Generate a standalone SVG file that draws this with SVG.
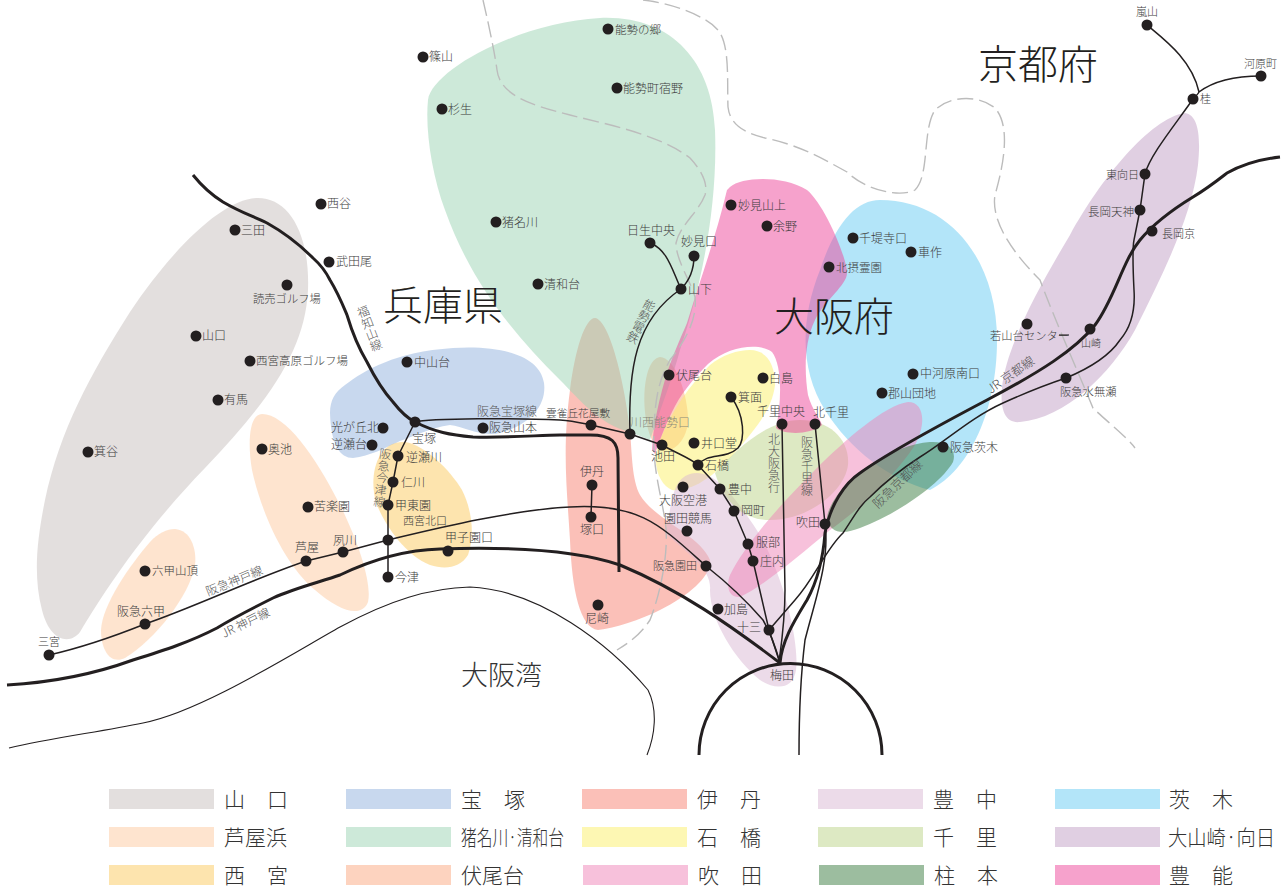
<svg xmlns="http://www.w3.org/2000/svg" width="1288" height="888" viewBox="0 0 1288 888">
<style>
text{font-family:"Noto Sans CJK JP","Noto Sans",sans-serif;font-size:12px;fill:#3c3c3c;font-weight:300}
.big{font-size:40px;fill:#231f20}
.bay{font-size:27px;fill:#333}
.leg{font-size:21px;fill:#333}
.line{font-size:12px;fill:#555}
.v{writing-mode:vertical-rl;font-size:12px;fill:#555}
circle{fill:#231f20}
.r{opacity:.5;stroke:none}
.t{fill:none;stroke:#231f20;stroke-width:1.5}
.k{fill:none;stroke:#231f20;stroke-width:3}
.c{fill:none;stroke:#231f20;stroke-width:1.1}
.d{fill:none;stroke:#bcbcbc;stroke-width:1.4;stroke-dasharray:16 6}
</style>
<g id="regions">
<path class="r" fill="#c7bfbd" d="M258,198C288,198 310,232 308,290C305,350 270,400 205,468C145,530 105,590 80,632C70,645 50,642 42,610C33,575 37,540 45,500C60,430 90,375 130,312C175,245 225,198 258,198Z"/>
<path class="r" fill="#fdc99f" d="M175,529C190,530 197,548 195,565C190,595 155,640 125,658C110,665 101,650 101,630C102,605 130,565 150,542C158,533 167,529 175,529Z"/>
<path class="r" fill="#fdc99f" d="M262,414C285,414 315,455 340,505C360,545 372,585 368,602C362,618 340,612 315,590C285,565 262,515 252,470C247,440 250,414 262,414Z"/>
<path class="r" fill="#91b1dd" d="M453,348C500,345 540,355 544,383C547,405 530,425 500,433C480,437 465,427 450,425C430,428 415,436 400,441C385,448 370,456 353,458C340,458 331,445 330,413C330,400 335,392 345,385C365,370 395,352 453,348Z"/>
<path class="r" fill="#fbc95d" d="M405,442C425,445 450,470 462,490C472,510 475,535 468,555C460,568 445,570 430,565C405,555 385,525 377,505C368,480 375,440 405,442Z"/>
<path class="r" fill="#f78171" d="M595,318C610,320 625,385 630,430C632,455 632,480 640,495C655,520 700,535 710,560C712,575 690,595 660,610C640,620 615,628 598,630C580,628 572,590 570,540C567,490 562,450 570,390C575,350 585,318 595,318Z"/>
<path class="r" fill="#fba77f" d="M660,357C675,357 688,395 688,420C688,440 670,460 655,445C640,425 640,360 660,357Z"/>
<path class="r" fill="#9bd3b3" d="M428,100C432,70 520,22 600,18C670,15 712,60 715,130C718,210 700,290 680,350C672,380 660,410 650,440L630,432C600,425 580,400 560,380C510,330 470,280 445,210C432,175 425,130 428,100Z"/>
<path class="r" fill="#fbef67" d="M750,350C765,350 775,362 775,385C772,410 755,430 730,458C712,478 690,492 672,490C660,485 650,465 660,440C672,410 690,385 710,365C722,355 738,350 750,350Z"/>
<path class="r" fill="#d9b7d3" d="M690,474C710,468 730,490 750,520C780,560 800,640 796,670C793,690 775,690 760,680C735,660 710,620 710,590C712,570 690,555 665,533C672,510 670,480 690,474Z"/>
<path class="r" fill="#bbd387" d="M715,473C740,445 770,420 800,420C830,420 850,440 848,465C845,490 810,520 770,520C745,520 725,505 715,473Z"/>
<path class="r" fill="#67cbf3" d="M880,200C950,200 997,260 997,340C997,410 970,470 930,490C890,480 850,450 825,410C800,370 800,320 820,270C835,225 855,200 880,200Z"/>
<path class="r" fill="#c19fc5" d="M1185,113C1198,115 1201,135 1198,165C1192,215 1165,270 1135,330C1110,375 1065,418 1020,422C1003,424 999,405 1003,380C1010,340 1040,285 1070,235C1100,180 1150,118 1185,113Z"/>
<path class="r" fill="#ef83b7" d="M908,402C925,402 926,425 915,445C895,475 865,505 830,530C800,555 765,585 740,597C728,598 726,585 730,575C745,545 775,510 815,470C845,440 885,405 908,402Z"/>
<path class="r" fill="#397b3f" d="M930,442C948,441 957,450 953,462C940,485 895,515 860,528C845,534 830,535 827,518C828,505 845,480 870,465C890,452 912,443 930,442Z"/>
<path class="r" fill="#ed4599" d="M730,187C742,177 782,175 807,190C825,205 847,258 847,273C847,285 825,300 815,320C803,345 805,375 808,395C812,410 820,418 822,425C810,435 785,435 776,428C782,400 782,365 772,352C760,343 730,345 708,364C692,380 680,395 672,412C664,428 660,440 655,454L652,450C653,425 660,395 668,370C675,350 682,335 687,323C700,280 715,240 727,190Z"/>
</g>
<g id="borders">
<path class="d" d="M483,0C490,30 495,55 497,70C500,95 530,105 570,115C610,125 660,135 690,158C703,172 708,185 705,195C698,213 680,225 676,243C676,260 690,280 695,297C697,315 690,335 670,360C660,378 655,395 654,430C652,465 660,490 665,520C670,550 660,595 650,620C640,635 630,642 617,650"/>
<path class="d" d="M643,0C670,3 705,15 718,30C730,45 727,80 728,107C730,125 745,133 765,138C800,145 825,160 847,172C865,190 900,198 915,190C930,175 922,130 935,110C950,95 980,95 995,108C1010,125 1005,160 995,195C990,225 1020,260 1040,280C1055,320 1075,365 1093,408C1105,420 1125,435 1135,448"/>
</g>
<g id="connectors">
<path class="c" d="M9,748C50,738 100,732 143,723C200,712 290,655 340,627C390,600 430,588 470,587C540,590 610,645 648,690C658,710 655,735 647,755"/>
<path class="k" d="M7,685C60,682 100,672 133,660C165,650 190,642 217,628C235,617 255,607 273,598C295,588 320,582 340,575C365,563 400,550 440,549C500,547 570,548 620,565C680,590 730,625 780,663"/>
<path class="k" d="M780,663C782,640 795,620 807,600C818,580 823,560 825,533C830,505 845,483 860,473C885,455 930,430 987,400C1040,372 1075,350 1095,325C1115,298 1122,262 1140,240C1155,222 1175,208 1193,197C1208,188 1218,180 1227,173C1245,163 1262,159 1280,157"/>
<path class="k" d="M193,175C205,190 215,197 223,202C240,212 250,215 267,223C285,233 300,245 313,258C322,266 326,272 330,280C338,293 342,303 347,315C353,335 358,347 367,362C375,378 384,392 393,402C400,411 407,418 415,422C435,432 450,435 473,437C510,438 540,435 560,435L590,435C612,435 618,442 618,458L619,572"/>
<path class="k" d="M699,755A91,91 0 0 1 882,755"/>
<path class="t" d="M415,422C430,418 520,418 560,420C575,421 585,424 591,425L630,434L662,445C680,455 690,458 698,465L720,489L734,511L748,544L753,561L769,630L780,663"/>
<path class="t" d="M49,655C80,648 115,636 145,624C195,607 250,580 306,561L343,552L388,540C430,530 510,510 570,507C640,503 660,525 706,566C730,585 750,605 763,620C770,632 775,645 780,663"/>
<path class="t" d="M415,422L398,456L393,482L388,505L388,577"/>
<path class="t" d="M630,434C628,370 635,320 681,289"/>
<path class="t" d="M650,243C668,250 672,270 681,289C690,280 694,270 694,256"/>
<path class="t" d="M731,397C745,415 745,440 738,448C725,460 708,452 698,465"/>
<path class="t" d="M592,485L591,517"/>
<path class="t" d="M782,424L785,590C785,620 782,640 779,662"/>
<path class="t" d="M815,424L825,524C830,560 815,600 805,640C800,680 799,720 799,755"/>
<path class="t" d="M769,630L795,600C815,578 825,550 843,533C855,515 860,505 870,497C885,482 900,470 920,457C945,442 970,418 1003,403C1025,393 1045,385 1066,378C1090,368 1110,355 1120,340C1133,325 1135,305 1134,290C1133,270 1132,250 1134,240L1140,210L1145,174C1150,155 1175,125 1193,99C1196,96 1198,94 1199,92C1215,80 1240,76 1261,76M1199,92C1192,60 1165,40 1147,25"/>
<path class="c" d="M1059,335H1069"/>
</g>
<g id="big-labels">
<text class="big" x="383" y="320">兵庫県</text>
<text class="big" x="774" y="331">大阪府</text>
<text class="big" x="978" y="79">京都府</text>
<text class="bay" x="461" y="685">大阪湾</text>
</g>
<g id="line-labels">
<text class="line" x="208" y="596" transform="rotate(-22 208 596)">阪急神戸線</text>
<text class="line" x="224" y="638" transform="rotate(-26 224 638)">JR 神戸線</text>
<text class="v" x="361" y="306" transform="rotate(-21 361 306)">福知山線</text>
<text class="v" x="652" y="300" transform="rotate(27 652 300)">能勢電鉄</text>
<text class="v" x="386" y="448" transform="rotate(7 386 448)">阪急今津線</text>
<text class="line" x="477" y="416">阪急宝塚線</text>
<text class="v" x="774" y="433">北大阪急行</text>
<text class="v" x="807" y="436">阪急千里線</text>
<text class="line" x="878" y="509" transform="rotate(-44 878 509)" style="font-size:12.6px">阪急京都線</text>
<text class="line" x="991" y="394" transform="rotate(-35 991 394)" style="font-size:12.5px">JR 京都線</text>
<text x="403" y="525" style="font-size:11px">西宮北口</text>
</g>
<g id="n-sasayama"><circle cx="423" cy="57" r="5.5"/><text x="429" y="61">篠山</text></g>
<g id="n-sugio"><circle cx="442" cy="109" r="5.5"/><text x="448" y="114">杉生</text></g>
<g id="n-nosenosato"><circle cx="608" cy="29" r="5.5"/><text x="615" y="34" style="font-size:11.5px">能勢の郷</text></g>
<g id="n-noseshukuno"><circle cx="617" cy="88" r="5.5"/><text x="623" y="93">能勢町宿野</text></g>
<g id="n-inagawa"><circle cx="496" cy="222" r="5.5"/><text x="502" y="227">猪名川</text></g>
<g id="n-seiwadai"><circle cx="538" cy="284" r="5.5"/><text x="544" y="289">清和台</text></g>
<g id="n-nissei"><circle cx="650" cy="243" r="5.5"/><text x="627" y="235">日生中央</text></g>
<g id="n-myokenguchi"><circle cx="694" cy="256" r="5.5"/><text x="681" y="246">妙見口</text></g>
<g id="n-yamashita"><circle cx="681" cy="289" r="5.5"/><text x="688" y="294">山下</text></g>
<g id="n-myokensan"><circle cx="731" cy="205" r="5.5"/><text x="738" y="210">妙見山上</text></g>
<g id="n-yono"><circle cx="767" cy="226" r="5.5"/><text x="773" y="231">余野</text></g>
<g id="n-sentei"><circle cx="853" cy="238" r="5.5"/><text x="859" y="243">千堤寺口</text></g>
<g id="n-kurumatsukuri"><circle cx="911" cy="252" r="5.5"/><text x="918" y="257">車作</text></g>
<g id="n-hokusetsu"><circle cx="829" cy="267" r="5.5"/><text x="836" y="272" style="font-size:11.5px">北摂霊園</text></g>
<g id="n-nakagawara"><circle cx="913" cy="374" r="5.5"/><text x="920" y="378">中河原南口</text></g>
<g id="n-koriyama"><circle cx="882" cy="393" r="5.5"/><text x="888" y="398">郡山団地</text></g>
<g id="n-ibaraki"><circle cx="943" cy="447" r="5.5"/><text x="950" y="452">阪急茨木</text></g>
<g id="n-suita"><circle cx="825" cy="524" r="5.5"/><text x="796" y="527">吹田</text></g>
<g id="n-kitasenri"><circle cx="815" cy="424" r="5.5"/><text x="813" y="417">北千里</text></g>
<g id="n-senrichuo"><circle cx="782" cy="424" r="5.5"/><text x="757" y="416">千里中央</text></g>
<g id="n-hakushima"><circle cx="763" cy="378" r="5.5"/><text x="769" y="383">白島</text></g>
<g id="n-minoo"><circle cx="731" cy="397" r="5.5"/><text x="738" y="402">箕面</text></g>
<g id="n-fushiodai"><circle cx="669" cy="375" r="5.5"/><text x="676" y="380">伏尾台</text></g>
<g id="n-kawanishi"><circle cx="630" cy="434" r="5.5"/><text x="630" y="427" style="fill:#8a8a7a">川西能勢口</text></g>
<g id="n-hibarigaoka"><circle cx="591" cy="425" r="5.5"/><text x="546" y="417" style="font-size:10.7px">雲雀丘花屋敷</text></g>
<g id="n-ikeda"><circle cx="662" cy="445" r="5.5"/><text x="651" y="461">池田</text></g>
<g id="n-iguchido"><circle cx="694" cy="443" r="5.5"/><text x="701" y="448">井口堂</text></g>
<g id="n-ishibashi"><circle cx="698" cy="465" r="5.5"/><text x="705" y="470">石橋</text></g>
<g id="n-toyonaka"><circle cx="720" cy="489" r="5.5"/><text x="728" y="494">豊中</text></g>
<g id="n-airport"><circle cx="683" cy="487" r="5.5"/><text x="659" y="505">大阪空港</text></g>
<g id="n-okamachi"><circle cx="734" cy="511" r="5.5"/><text x="741" y="515">岡町</text></g>
<g id="n-sonodakeiba"><circle cx="687" cy="531" r="5.5"/><text x="664" y="523">園田競馬</text></g>
<g id="n-hattori"><circle cx="748" cy="544" r="5.5"/><text x="756" y="547">服部</text></g>
<g id="n-shonai"><circle cx="753" cy="561" r="5.5"/><text x="760" y="566">庄内</text></g>
<g id="n-sonoda"><circle cx="706" cy="566" r="5.5"/><text x="653" y="570" style="font-size:11px">阪急園田</text></g>
<g id="n-kashima"><circle cx="718" cy="609" r="5.5"/><text x="724" y="614">加島</text></g>
<g id="n-juso"><circle cx="769" cy="630" r="5.5"/><text x="737" y="632">十三</text></g>
<g id="n-umeda"><text x="770" y="680">梅田</text></g>
<g id="n-itami"><circle cx="592" cy="485" r="5.5"/><text x="580" y="476">伊丹</text></g>
<g id="n-tsukaguchi"><circle cx="591" cy="517" r="5.5"/><text x="580" y="534">塚口</text></g>
<g id="n-amagasaki"><circle cx="598" cy="605" r="5.5"/><text x="585" y="623">尼崎</text></g>
<g id="n-yamamoto"><circle cx="483" cy="428" r="5.5"/><text x="489" y="432">阪急山本</text></g>
<g id="n-takarazuka"><circle cx="415" cy="422" r="5.5"/><text x="412" y="443">宝塚</text></g>
<g id="n-nakayamadai"><circle cx="407" cy="362" r="5.5"/><text x="414" y="367">中山台</text></g>
<g id="n-hikarigaoka"><circle cx="383" cy="428" r="5.5"/><text x="331" y="432">光が丘北</text></g>
<g id="n-sakasedai"><circle cx="372" cy="445" r="5.5"/><text x="331" y="449">逆瀬台</text></g>
<g id="n-sakasegawa"><circle cx="398" cy="456" r="5.5"/><text x="406" y="462">逆瀬川</text></g>
<g id="n-nigawa"><circle cx="393" cy="482" r="5.5"/><text x="401" y="487">仁川</text></g>
<g id="n-koto"><circle cx="388" cy="505" r="5.5"/><text x="395" y="510">甲東園</text></g>
<g id="n-nishinomiya"><circle cx="388" cy="540" r="5.5"/></g>
<g id="n-koshien"><circle cx="448" cy="551" r="5.5"/><text x="445" y="542">甲子園口</text></g>
<g id="n-imazu"><circle cx="388" cy="577" r="5.5"/><text x="395" y="582">今津</text></g>
<g id="n-shukugawa"><circle cx="343" cy="552" r="5.5"/><text x="333" y="545">夙川</text></g>
<g id="n-ashiya"><circle cx="306" cy="561" r="5.5"/><text x="295" y="552">芦屋</text></g>
<g id="n-kurakuen"><circle cx="308" cy="507" r="5.5"/><text x="314" y="511">苦楽園</text></g>
<g id="n-okuike"><circle cx="262" cy="449" r="5.5"/><text x="268" y="454">奥池</text></g>
<g id="n-arima"><circle cx="218" cy="400" r="5.5"/><text x="224" y="404">有馬</text></g>
<g id="n-nishinomiyakogen"><circle cx="250" cy="361" r="5.5"/><text x="256" y="365" style="font-size:11.5px">西宮高原ゴルフ場</text></g>
<g id="n-yamaguchi"><circle cx="196" cy="336" r="5.5"/><text x="202" y="340">山口</text></g>
<g id="n-yomiuri"><circle cx="287" cy="285" r="5.5"/><text x="253" y="303" style="font-size:11.3px">読売ゴルフ場</text></g>
<g id="n-takedao"><circle cx="329" cy="262" r="5.5"/><text x="336" y="266">武田尾</text></g>
<g id="n-nishitani"><circle cx="321" cy="204" r="5.5"/><text x="327" y="208">西谷</text></g>
<g id="n-sanda"><circle cx="235" cy="230" r="5.5"/><text x="241" y="235">三田</text></g>
<g id="n-minotani"><circle cx="88" cy="452" r="5.5"/><text x="94" y="456">箕谷</text></g>
<g id="n-rokkosan"><circle cx="145" cy="571" r="5.5"/><text x="152" y="575" style="font-size:11.5px">六甲山頂</text></g>
<g id="n-rokko"><circle cx="145" cy="624" r="5.5"/><text x="117" y="616">阪急六甲</text></g>
<g id="n-sannomiya"><circle cx="49" cy="655" r="5.5"/><text x="38" y="646" style="font-size:11px">三宮</text></g>
<g id="n-arashiyama"><circle cx="1147" cy="25" r="5.5"/><text x="1136" y="16" style="font-size:11px">嵐山</text></g>
<g id="n-kawaramachi"><circle cx="1261" cy="76" r="5.5"/><text x="1244" y="68" style="font-size:11px">河原町</text></g>
<g id="n-katsura"><circle cx="1193" cy="99" r="5.5"/><text x="1200" y="103" style="font-size:11px">桂</text></g>
<g id="n-higashimuko"><circle cx="1145" cy="174" r="5.5"/><text x="1106" y="179" style="font-size:11px">東向日</text></g>
<g id="n-nagaokatenjin"><circle cx="1140" cy="210" r="5.5"/><text x="1088" y="216" style="font-size:11.5px">長岡天神</text></g>
<g id="n-nagaokakyo"><circle cx="1152" cy="231" r="5.5"/><text x="1162" y="238" style="font-size:11px">長岡京</text></g>
<g id="n-wakayamadai"><circle cx="1027" cy="324" r="5.5"/><text x="990" y="340" style="font-size:11.3px">若山台センター</text></g>
<g id="n-yamazaki"><circle cx="1090" cy="329" r="5.5"/><text x="1081" y="347" style="font-size:10px">山崎</text></g>
<g id="n-minase"><circle cx="1066" cy="378" r="5.5"/><text x="1060" y="396" style="font-size:11.3px">阪急水無瀬</text></g>
<g id="legend">
<rect x="109" y="789" width="105" height="20" fill="#e3dfde"/><text class="leg" x="224" y="807">山</text><text class="leg" x="267" y="807">口</text>
<rect x="109" y="827" width="105" height="20" fill="#fee4cf"/><text class="leg" x="224" y="845" textLength="63" lengthAdjust="spacingAndGlyphs">芦屋浜</text>
<rect x="109" y="865" width="105" height="20" fill="#fde4ae"/><text class="leg" x="224" y="883">西</text><text class="leg" x="267" y="883">宮</text>
<rect x="346" y="789" width="105" height="20" fill="#c8d8ee"/><text class="leg" x="461" y="807">宝</text><text class="leg" x="504" y="807">塚</text>
<rect x="346" y="827" width="105" height="20" fill="#cde9d9"/><text class="leg" x="461" y="845" textLength="103" lengthAdjust="spacingAndGlyphs">猪名川·清和台</text>
<rect x="346" y="865" width="105" height="20" fill="#fdd3bf"/><text class="leg" x="461" y="883" textLength="63" lengthAdjust="spacingAndGlyphs">伏尾台</text>
<rect x="582" y="789" width="105" height="20" fill="#fbc0b8"/><text class="leg" x="697" y="807">伊</text><text class="leg" x="740" y="807">丹</text>
<rect x="582" y="827" width="105" height="20" fill="#fdf7b3"/><text class="leg" x="697" y="845">石</text><text class="leg" x="740" y="845">橋</text>
<rect x="583" y="865" width="105" height="20" fill="#f7c1db"/><text class="leg" x="698" y="883">吹</text><text class="leg" x="741" y="883">田</text>
<rect x="818" y="789" width="105" height="20" fill="#ecdbe9"/><text class="leg" x="933" y="807">豊</text><text class="leg" x="976" y="807">中</text>
<rect x="818" y="827" width="105" height="20" fill="#dde9c3"/><text class="leg" x="933" y="845">千</text><text class="leg" x="976" y="845">里</text>
<rect x="819" y="865" width="105" height="20" fill="#9cbd9f"/><text class="leg" x="934" y="883">柱</text><text class="leg" x="977" y="883">本</text>
<rect x="1055" y="789" width="105" height="20" fill="#b3e5f9"/><text class="leg" x="1169" y="807">茨</text><text class="leg" x="1212" y="807">木</text>
<rect x="1055" y="827" width="105" height="20" fill="#e0cfe2"/><text class="leg" x="1168" y="845" textLength="107" lengthAdjust="spacingAndGlyphs">大山崎·向日</text>
<rect x="1055" y="865" width="105" height="20" fill="#f6a2cc"/><text class="leg" x="1169" y="883">豊</text><text class="leg" x="1212" y="883">能</text>
</g>
</svg>
